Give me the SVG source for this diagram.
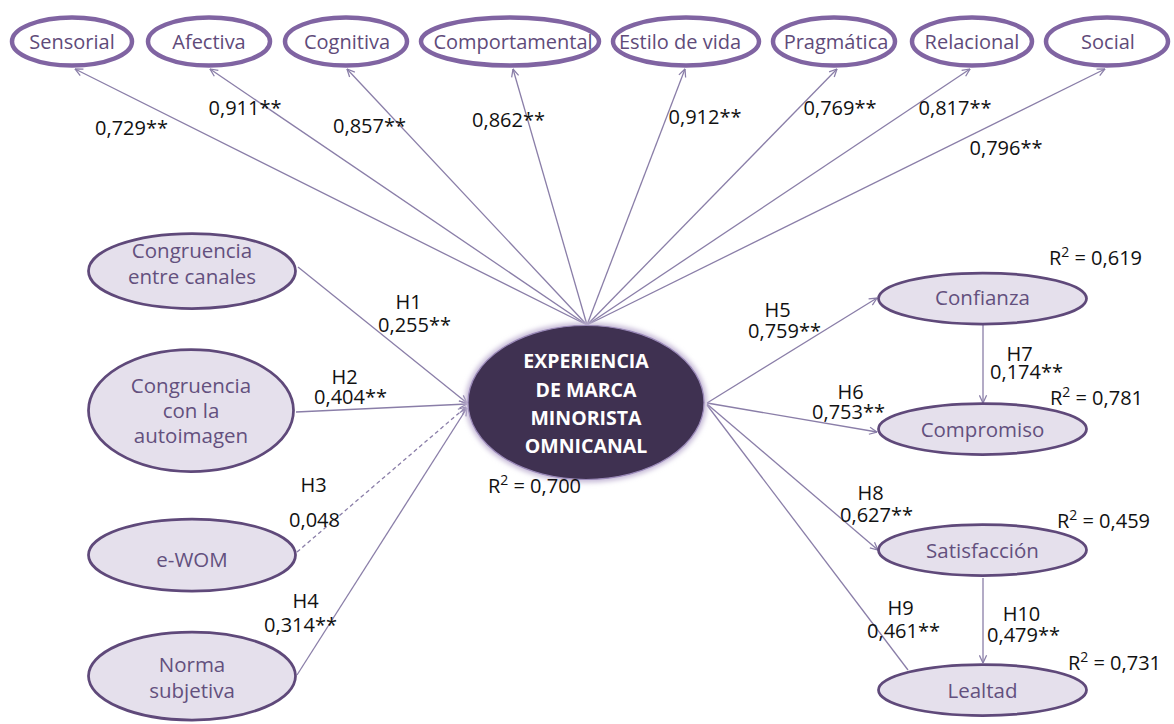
<svg xmlns="http://www.w3.org/2000/svg" width="1174" height="724" viewBox="0 0 1174 724">
  <style>
    .dim { fill: #FFFFFF; stroke: #8064A2; stroke-width: 4.5; }
    .dimtxt { font-family: "Open Sans", Lato, sans-serif; font-size: 20px; fill: #5F4B7A; text-anchor: middle; }
    .lat { fill: #E5E0EC; stroke: #5F497A; stroke-width: 2.75; }
    .lattxt { font-family: "Open Sans", Lato, sans-serif; font-size: 20.5px; fill: #63507E; text-anchor: middle; }
    .core { fill: #3F3151; stroke: #9A89B8; stroke-width: 1.2; }
    .coretxt { font-family: "Open Sans", Lato, sans-serif; font-size: 19.5px; font-weight: bold; fill: #FFFFFF; text-anchor: middle; }
    .lbl { font-family: "Open Sans", Lato, sans-serif; font-size: 20px; fill: #111111; text-anchor: middle; }
    .edge { fill: none; stroke: #8A7EA8; stroke-width: 1.3; marker-end: url(#arr); }
    .plain { fill: none; stroke: #8A7EA8; stroke-width: 1.3; }
    .dash { fill: none; stroke: #8A7EA8; stroke-width: 1.3; stroke-dasharray: 4 3; marker-end: url(#arr); }
  </style>
  <defs>
    <marker id="arr" viewBox="0 0 10 10" refX="9.5" refY="5" markerWidth="9" markerHeight="9" markerUnits="userSpaceOnUse" orient="auto">
      <path d="M1,1 L9.5,5 L1,9" fill="none" stroke="#8A7EA8" stroke-width="1.4"/>
    </marker>
    <filter id="glow" x="-20%" y="-20%" width="140%" height="140%">
      <feGaussianBlur stdDeviation="2.5"/>
    </filter>
  </defs>

  <rect width="1174" height="724" fill="#FFFFFF"/>

  <!-- connectors -->
  <g id="connectors">
    <!-- loadings to the eight dimensions -->
    <line class="edge" x1="587" y1="325" x2="75" y2="69"/>
    <line class="edge" x1="587" y1="325" x2="210" y2="69"/>
    <line class="edge" x1="587" y1="325" x2="347" y2="69"/>
    <line class="edge" x1="587" y1="325" x2="513" y2="69"/>
    <line class="edge" x1="587" y1="325" x2="685" y2="69"/>
    <line class="edge" x1="587" y1="325" x2="837" y2="69"/>
    <line class="edge" x1="587" y1="325" x2="970" y2="69"/>
    <line class="edge" x1="587" y1="325" x2="1105" y2="69"/>
    <!-- antecedents -->
    <line class="edge" x1="298" y1="267" x2="467" y2="403"/>
    <line class="edge" x1="296" y1="412" x2="467" y2="404"/>
    <line class="dash" x1="297" y1="552" x2="466" y2="407"/>
    <line class="edge" x1="297" y1="675" x2="467" y2="408"/>
    <!-- consequences -->
    <line class="edge" x1="707" y1="403" x2="877" y2="298"/>
    <line class="edge" x1="707" y1="403" x2="877" y2="432"/>
    <line class="edge" x1="707" y1="404" x2="878" y2="550"/>
    <line class="plain" x1="707" y1="405" x2="908" y2="670"/>
    <line class="edge" x1="983" y1="325" x2="983" y2="403"/>
    <line class="edge" x1="983" y1="578" x2="983" y2="663"/>

    <!-- path labels -->
    <text class="lbl" x="131.5" y="135">0,729**</text>
    <text class="lbl" x="245" y="115">0,911**</text>
    <text class="lbl" x="369.5" y="133">0,857**</text>
    <text class="lbl" x="508.5" y="127">0,862**</text>
    <text class="lbl" x="705" y="124">0,912**</text>
    <text class="lbl" x="840" y="115">0,769**</text>
    <text class="lbl" x="955" y="115">0,817**</text>
    <text class="lbl" x="1006" y="155">0,796**</text>

    <text class="lbl" x="408.5" y="309">H1</text>
    <text class="lbl" x="414.5" y="332">0,255**</text>
    <text class="lbl" x="344.5" y="384">H2</text>
    <text class="lbl" x="350.5" y="404">0,404**</text>
    <text class="lbl" x="313.5" y="492">H3</text>
    <text class="lbl" x="314.5" y="527">0,048</text>
    <text class="lbl" x="305.5" y="608">H4</text>
    <text class="lbl" x="300.5" y="632">0,314**</text>

    <text class="lbl" x="777.5" y="317">H5</text>
    <text class="lbl" x="784.5" y="338">0,759**</text>
    <text class="lbl" x="850.5" y="399">H6</text>
    <text class="lbl" x="848.5" y="419">0,753**</text>
    <text class="lbl" x="1019.5" y="361">H7</text>
    <text class="lbl" x="1026.5" y="379">0,174**</text>
    <text class="lbl" x="870.5" y="500">H8</text>
    <text class="lbl" x="876.5" y="522">0,627**</text>
    <text class="lbl" x="900.5" y="615">H9</text>
    <text class="lbl" x="903.5" y="638">0,461**</text>
    <text class="lbl" x="1021.5" y="621">H10</text>
    <text class="lbl" x="1023.5" y="642">0,479**</text>
  </g>

  <!-- experience dimensions -->
  <g id="sensorial">
    <ellipse class="dim" cx="72" cy="41.5" rx="60" ry="24"/>
    <text class="dimtxt" x="72" y="48.5">Sensorial</text>
  </g>
  <g id="afectiva">
    <ellipse class="dim" cx="209" cy="41.5" rx="61" ry="24"/>
    <text class="dimtxt" x="209" y="48.5">Afectiva</text>
  </g>
  <g id="cognitiva">
    <ellipse class="dim" cx="346" cy="41.5" rx="61" ry="24"/>
    <text class="dimtxt" x="347" y="48.5">Cognitiva</text>
  </g>
  <g id="comportamental">
    <ellipse class="dim" cx="510" cy="41.5" rx="89" ry="24"/>
    <text class="dimtxt" x="513" y="48.5">Comportamental</text>
  </g>
  <g id="estilo-de-vida">
    <ellipse class="dim" cx="686" cy="41.5" rx="73" ry="24"/>
    <text class="dimtxt" x="680" y="48.5">Estilo de vida</text>
  </g>
  <g id="pragmatica">
    <ellipse class="dim" cx="834" cy="41.5" rx="61" ry="24"/>
    <text class="dimtxt" x="836" y="48.5">Pragmática</text>
  </g>
  <g id="relacional">
    <ellipse class="dim" cx="972" cy="41.5" rx="60" ry="24"/>
    <text class="dimtxt" x="972" y="48.5">Relacional</text>
  </g>
  <g id="social">
    <ellipse class="dim" cx="1107" cy="41.5" rx="61" ry="24"/>
    <text class="dimtxt" x="1108" y="48.5">Social</text>
  </g>

  <!-- antecedents -->
  <g id="congruencia-canales">
    <ellipse class="lat" cx="192" cy="271" rx="103.5" ry="37.5"/>
    <text class="lattxt" x="192" y="258">Congruencia</text>
    <text class="lattxt" x="192" y="284">entre canales</text>
  </g>
  <g id="congruencia-autoimagen">
    <ellipse class="lat" cx="191" cy="410.5" rx="102.5" ry="61"/>
    <text class="lattxt" x="191" y="393">Congruencia</text>
    <text class="lattxt" x="191" y="418">con la</text>
    <text class="lattxt" x="191" y="443">autoimagen</text>
  </g>
  <g id="ewom">
    <ellipse class="lat" cx="192" cy="555" rx="103.5" ry="36"/>
    <text class="lattxt" x="192" y="567">e-WOM</text>
  </g>
  <g id="norma-subjetiva">
    <ellipse class="lat" cx="192" cy="676" rx="103.5" ry="44"/>
    <text class="lattxt" x="192" y="672">Norma</text>
    <text class="lattxt" x="192" y="698">subjetiva</text>
  </g>

  <!-- central construct -->
  <g id="experiencia">
    <ellipse cx="586" cy="402.5" rx="121" ry="80" fill="#C4B8D6" filter="url(#glow)"/>
    <ellipse class="core" cx="586" cy="402.5" rx="118" ry="77"/>
    <text class="coretxt" x="586" y="368">EXPERIENCIA</text>
    <text class="coretxt" x="586" y="397">DE MARCA</text>
    <text class="coretxt" x="586" y="425">MINORISTA</text>
    <text class="coretxt" x="586" y="453">OMNICANAL</text>
    <text class="lbl" x="534.5" y="493">R<tspan dy="-8" font-size="14">2</tspan><tspan dy="8"> = 0,700</tspan></text>
  </g>

  <!-- consequences -->
  <g id="confianza">
    <ellipse class="lat" cx="982.5" cy="298.5" rx="104" ry="25.5"/>
    <text class="lattxt" x="982.5" y="305">Confianza</text>
    <text class="lbl" x="1095.5" y="265">R<tspan dy="-8" font-size="14">2</tspan><tspan dy="8"> = 0,619</tspan></text>
  </g>
  <g id="compromiso">
    <ellipse class="lat" cx="982.5" cy="429" rx="104" ry="25.5"/>
    <text class="lattxt" x="982.5" y="437">Compromiso</text>
    <text class="lbl" x="1096.5" y="405">R<tspan dy="-8" font-size="14">2</tspan><tspan dy="8"> = 0,781</tspan></text>
  </g>
  <g id="satisfaccion">
    <ellipse class="lat" cx="982.5" cy="550" rx="104" ry="25.5"/>
    <text class="lattxt" x="982.5" y="558">Satisfacción</text>
    <text class="lbl" x="1103.5" y="528">R<tspan dy="-8" font-size="14">2</tspan><tspan dy="8"> = 0,459</tspan></text>
  </g>
  <g id="lealtad">
    <ellipse class="lat" cx="982.5" cy="690" rx="104" ry="25.5"/>
    <text class="lattxt" x="982.5" y="698">Lealtad</text>
    <text class="lbl" x="1114.5" y="670">R<tspan dy="-8" font-size="14">2</tspan><tspan dy="8"> = 0,731</tspan></text>
  </g>
</svg>
